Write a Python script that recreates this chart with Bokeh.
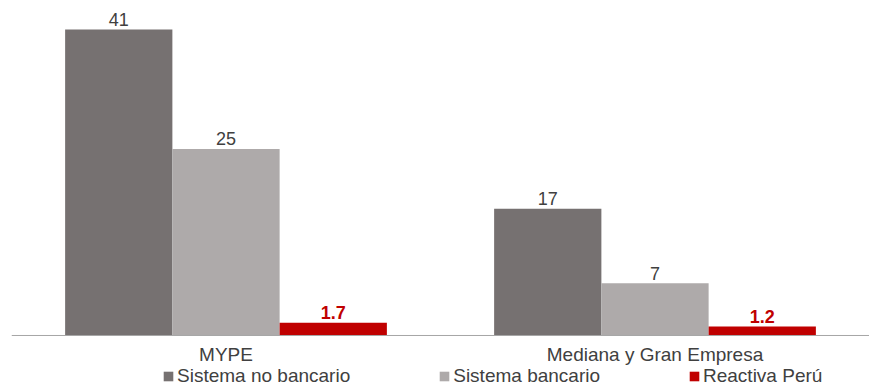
from bokeh.plotting import figure
from bokeh.models import ColumnDataSource, FactorRange, Range1d, Legend, LegendItem, Span
from bokeh.transform import dodge
from bokeh.core.properties import value
from bokeh.embed import file_html
from bokeh.resources import INLINE

categories = ["MYPE", "Mediana y Gran Empresa"]
series_names = ["Sistema no bancario", "Sistema bancario", "Reactiva Perú"]
no_bancario = [41, 17]
bancario = [25, 7]
reactiva = [1.7, 1.2]
labels_no_bancario = ["41", "17"]
labels_bancario = ["25", "7"]
labels_reactiva = ["1.7", "1.2"]

colors = ["#767171", "#AEAAAA", "#C00000"]
offsets = [-0.25, 0.0, 0.25]
FONT = "Liberation Sans"

p = figure(width=869, height=387, output_backend="svg", toolbar_location=None,
           x_range=FactorRange(factors=categories, range_padding=0),
           y_range=Range1d(-6.97, 44.9), x_axis_location=None, y_axis_location=None,
           min_border_left=11, min_border_right=0, min_border_top=0, min_border_bottom=0)
p.outline_line_color = None
p.xgrid.visible = False
p.ygrid.visible = False

series = [(no_bancario, labels_no_bancario), (bancario, labels_bancario), (reactiva, labels_reactiva)]
items = []
for i, ((vals, labs), name) in enumerate(zip(series, series_names)):
    src = ColumnDataSource(dict(cat=categories, val=vals, lab=labs))
    r = p.vbar(x=dodge("cat", offsets[i], range=p.x_range), top="val", width=0.25,
               source=src, fill_color=colors[i], line_color=None)
    items.append(LegendItem(label=name, renderers=[r]))
    is_red = i == 2
    p.text(x=dodge("cat", offsets[i], range=p.x_range), y="val", text="lab", source=src,
           text_align="center", text_baseline="alphabetic", y_offset=-10,
           text_font=value(FONT), text_font_size="18px",
           text_font_style="bold" if is_red else "normal",
           text_color="#C00000" if is_red else "#404040")

# category axis: baseline and category labels
p.add_layout(Span(location=0, dimension="width", line_color="#A6A6A6", line_width=1))
cat_src = ColumnDataSource(dict(cat=categories, y=[0] * len(categories)))
p.text(x="cat", y="y", text="cat", source=cat_src, text_align="center", text_baseline="top",
       y_offset=9, text_font=value(FONT), text_font_size="19px", text_color="#404040")

legend = Legend(items=items, orientation="horizontal", location=(151, 0),
                label_text_font=FONT, label_text_font_size="19px", label_text_color="#404040",
                glyph_width=12, glyph_height=12, label_standoff=3, spacing=88,
                padding=0, margin=0, border_line_color=None, background_fill_alpha=0,
                label_height=18)
p.add_layout(legend, "center")

open("out.html", "w").write(file_html(p, INLINE))
